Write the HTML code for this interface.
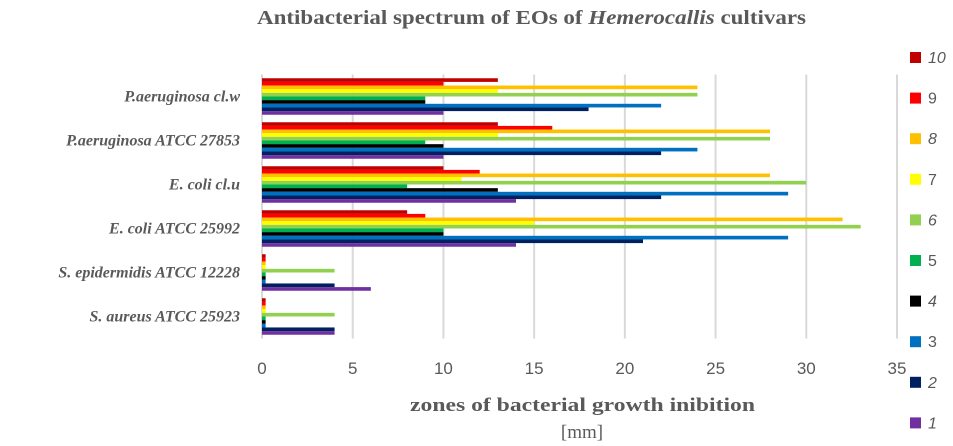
<!DOCTYPE html>
<html><head><meta charset="utf-8"><style>
body{margin:0;background:#fff;width:953px;height:446px;overflow:hidden}
svg{display:block}
</style></head><body>
<svg id="chart" width="953" height="446">
<text x="257" y="24" textLength="549" lengthAdjust="spacingAndGlyphs" font-family="Liberation Serif, serif" font-weight="bold" font-size="20" fill="#595959">Antibacterial spectrum of EOs of <tspan font-style="italic">Hemerocallis</tspan>  cultivars</text>
<text x="410" y="411" textLength="345" lengthAdjust="spacingAndGlyphs" font-family="Liberation Serif, serif" font-weight="bold" font-size="19" fill="#595959">zones of bacterial growth inibition</text>
<text x="582" y="438" text-anchor="middle" font-family="Liberation Serif, serif" font-size="19" fill="#595959">[mm]</text>
<g id="grid"></g><g id="bars"></g><g id="labels"></g><g id="legend"></g>
</svg>
<script>
const categories=["P.aeruginosa cl.w","P.aeruginosa ATCC 27853","E. coli cl.u","E. coli ATCC 25992","S. epidermidis ATCC 12228","S. aureus ATCC 25923"];
const seriesNames=["10","9","8","7","6","5","4","3","2","1"];
const s10=[13,13,10,8,0.2,0.2];
const s9=[10,16,12,9,0.2,0.2];
const s8=[24,28,28,32,0.2,0.2];
const s7=[13,13,11,15,0.2,0.2];
const s6=[24,28,30,33,4,4];
const s5=[9,9,8,10,0.2,0.2];
const s4=[9,10,13,10,0.2,0.2];
const s3=[22,24,29,29,0.2,0.2];
const s2=[18,22,22,21,4,4];
const s1=[10,10,14,14,6,4];
const xTicks=[0,5,10,15,20,25,30,35];
const series=[s10,s9,s8,s7,s6,s5,s4,s3,s2,s1];
const colors=["#C00000","#FF0000","#FFC000","#FFFF00","#92D050","#00B050","#000000","#0070C0","#002060","#7030A0"];
const italicLegend=[true,false,true,false,true,false,true,false,true,true];
const NS="http://www.w3.org/2000/svg";
const x0=262,x1=897,yTop=74.5,yBottom=338.5;
const xs=v=>x0+(x1-x0)*v/35;
const band=(yBottom-yTop)/categories.length;
function mk(t,a,p){const e=document.createElementNS(NS,t);for(const k in a)e.setAttribute(k,a[k]);p.appendChild(e);return e;}
const grid=document.getElementById('grid');
xTicks.forEach(t=>{
 const l=mk('line',{x1:xs(t),x2:xs(t),y1:yTop,y2:yBottom,stroke:'#d9d9d9','stroke-width':2},grid);
 
 
 const tx=mk('text',{x:xs(t),y:374,'text-anchor':'middle','font-family':'Liberation Sans, sans-serif','font-size':17,fill:'#595959'},grid);
 tx.textContent=t;
 
 
});
const bars=document.getElementById('bars');
const bh=3.65;
categories.forEach((c,i)=>{
 const c0=yTop+band*i+band/2-bh*series.length/2;
 series.forEach((s,j)=>{
  const r=mk('rect',{x:x0,y:c0+j*bh,width:xs(s[i])-x0,height:bh,fill:colors[j]},bars);
  
  
 });
 const t=mk('text',{x:240,y:yTop+band*i+band/2+5,'text-anchor':'end','font-family':'Liberation Serif, serif','font-size':16,'font-weight':'bold','font-style':'italic',fill:'#595959'},document.getElementById('labels'));
 t.textContent=c;
 
 
});
const lg=document.getElementById('legend');
seriesNames.forEach((n,j)=>{
 const y=58+j*40.6;
 const r=mk('rect',{x:910,y:y-6,width:11,height:11,fill:colors[j]},lg);
 
 
 const t=mk('text',{x:928,y:y+5,'font-family':'Liberation Sans, sans-serif','font-size':16,'font-style':italicLegend[j]?'italic':'normal',fill:'#595959'},lg);
 t.textContent=n;
 
 
});
</script>
</body></html>
